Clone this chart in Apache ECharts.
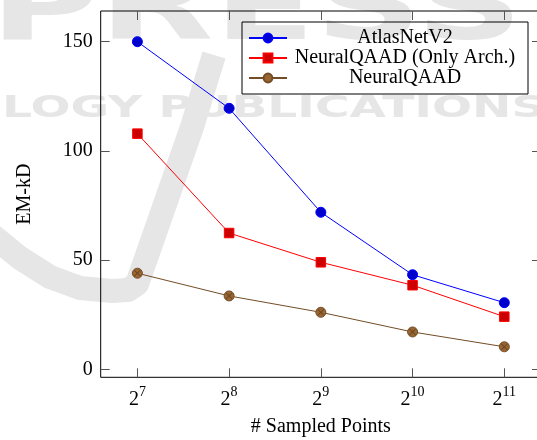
<!DOCTYPE html>
<html><head><meta charset="utf-8">
<script src="https://cdn.jsdelivr.net/npm/echarts@6/dist/echarts.min.js"></script>
<style>html,body{margin:0;padding:0;background:#fff}#c{width:537px;height:440px}</style>
</head><body><div id="c"></div>
<script>
// ---- data ----
const categories = ['2^7', '2^8', '2^9', '2^10', '2^11'];
const atlasNetV2 = [150, 119.5, 71.9, 43.3, 30.5];
const neuralQAADOnlyArch = [107.9, 62.4, 49.0, 38.5, 24.1];
const neuralQAAD = [44.0, 33.6, 26.1, 17.1, 10.3];
const seriesNames = ['AtlasNetV2', 'NeuralQAAD (Only Arch.)', 'NeuralQAAD'];
const yTickValues = [0, 50, 100, 150];
const xTickValues = [0, 1, 2, 3, 4];

const FONT = 'Liberation Serif';
const toPairs = arr => arr.map((v, i) => [i, v]);
const wm = '#e6e6e6';

const chart = echarts.init(document.getElementById('c'), null, {renderer: 'canvas'});
const tickStyle = {show: true, inside: true, length: 9, lineStyle: {color: '#555', width: 1}};
const noLine = {show: false, onZero: false};

chart.setOption({
  animation: false,
  backgroundColor: '#fff',
  textStyle: {fontFamily: FONT},
  graphic: [
    {type: 'text', x: -10, y: 62, z: -10, scaleX: 1.55, silent: true,
     style: {text: 'PRESS', font: 'bold 96px "DejaVu Sans"', fill: wm, verticalAlign: 'bottom'}},
    {type: 'text', x: -38, y: 124, z: -10, scaleX: 1.52, silent: true,
     style: {text: 'OLOGY PUBLICATIONS', font: 'bold 31px "DejaVu Sans"', fill: wm, verticalAlign: 'bottom'}},
    {type: 'polyline', z: -10, silent: true,
     shape: {points: [[-12, 232], [20, 258], [50, 277], [80, 288], [112, 291], [128, 290], [137, 284], [192, 127], [214, 55]]},
     style: {stroke: wm, lineWidth: 24, fill: null, lineJoin: 'round'}}
  ],
  grid: {left: 100.7, top: 11, width: 440.3, height: 366.3, show: true, borderColor: '#000', borderWidth: 1,
         backgroundColor: 'transparent', outerBoundsMode: 'none', containLabel: false},
  legend: {
    orient: 'vertical', left: 242, top: 22, itemGap: 0, itemWidth: 38, itemHeight: 11,
    padding: [6, 10, 6, 6], borderColor: '#000', borderWidth: 1, backgroundColor: 'transparent',
    data: seriesNames,
    formatter: n => '{n|' + n + '}',
    textStyle: {rich: {n: {width: 226, align: 'center', fontSize: 20, lineHeight: 25, fontFamily: FONT, color: '#000'}}}
  },
  xAxis: [
    {type: 'value', min: -0.4, max: 4.4, position: 'bottom',
     axisLine: noLine, splitLine: {show: false},
     axisTick: Object.assign({customValues: xTickValues}, tickStyle),
     axisLabel: {customValues: xTickValues, margin: 8,
       formatter: v => { const p = categories[Math.round(v)].split('^'); return '{b|' + p[0] + '}{s|' + p[1] + '}'; },
       rich: {b: {fontSize: 20, lineHeight: 24, fontFamily: FONT, color: '#000', verticalAlign: 'bottom'},
              s: {fontSize: 14, lineHeight: 14, fontFamily: FONT, color: '#000', verticalAlign: 'top'}}},
     name: '# Sampled Points', nameLocation: 'middle', nameGap: 38,
     nameTextStyle: {fontSize: 20, lineHeight: 23, fontFamily: FONT, color: '#000', verticalAlign: 'top'}},
    {type: 'value', min: -0.4, max: 4.4, position: 'top',
     axisLine: noLine, splitLine: {show: false},
     axisTick: Object.assign({customValues: xTickValues}, tickStyle),
     axisLabel: {show: false}}
  ],
  yAxis: [
    {type: 'value', min: -3.66, max: 164.06, position: 'left',
     axisLine: noLine, splitLine: {show: false},
     axisTick: Object.assign({customValues: yTickValues}, tickStyle),
     axisLabel: {customValues: yTickValues, margin: 8, fontSize: 20, fontFamily: FONT, color: '#000'},
     name: 'EM-kD', nameLocation: 'middle', nameGap: 64, nameRotate: 90,
     nameTextStyle: {fontSize: 20, lineHeight: 23, fontFamily: FONT, color: '#000'}},
    {type: 'value', min: -3.66, max: 164.06, position: 'right',
     axisLine: noLine, splitLine: {show: false},
     axisTick: Object.assign({customValues: yTickValues}, tickStyle),
     axisLabel: {show: false}}
  ],
  series: [
    {name: seriesNames[0], type: 'line', data: toPairs(atlasNetV2), symbol: 'circle', symbolSize: 10,
     lineStyle: {color: '#0000ff', width: 1}, itemStyle: {color: '#0000cc', borderColor: '#0000ff', borderWidth: 1}, z: 4},
    {name: seriesNames[1], type: 'line', data: toPairs(neuralQAADOnlyArch), symbol: 'rect', symbolSize: 9.5,
     lineStyle: {color: '#ff0000', width: 1}, itemStyle: {color: '#cc0000', borderColor: '#ff0000', borderWidth: 1}, z: 3},
    {name: seriesNames[2], type: 'line', data: toPairs(neuralQAAD), symbol: 'circle', symbolSize: 10,
     lineStyle: {color: '#734d26', width: 1}, itemStyle: {color: '#996633', borderColor: '#734d26', borderWidth: 1}, z: 3},
    {name: 'crossMarks', type: 'scatter', data: toPairs(neuralQAAD), silent: true, z: 5,
     symbol: 'path://M1,0 L5,4 L9,0 L10,1 L6,5 L10,9 L9,10 L5,6 L1,10 L0,9 L4,5 L0,1 Z', symbolSize: 6.5,
     itemStyle: {color: 'rgba(70,45,20,0.75)'}}
  ]
});
</script></body></html>
